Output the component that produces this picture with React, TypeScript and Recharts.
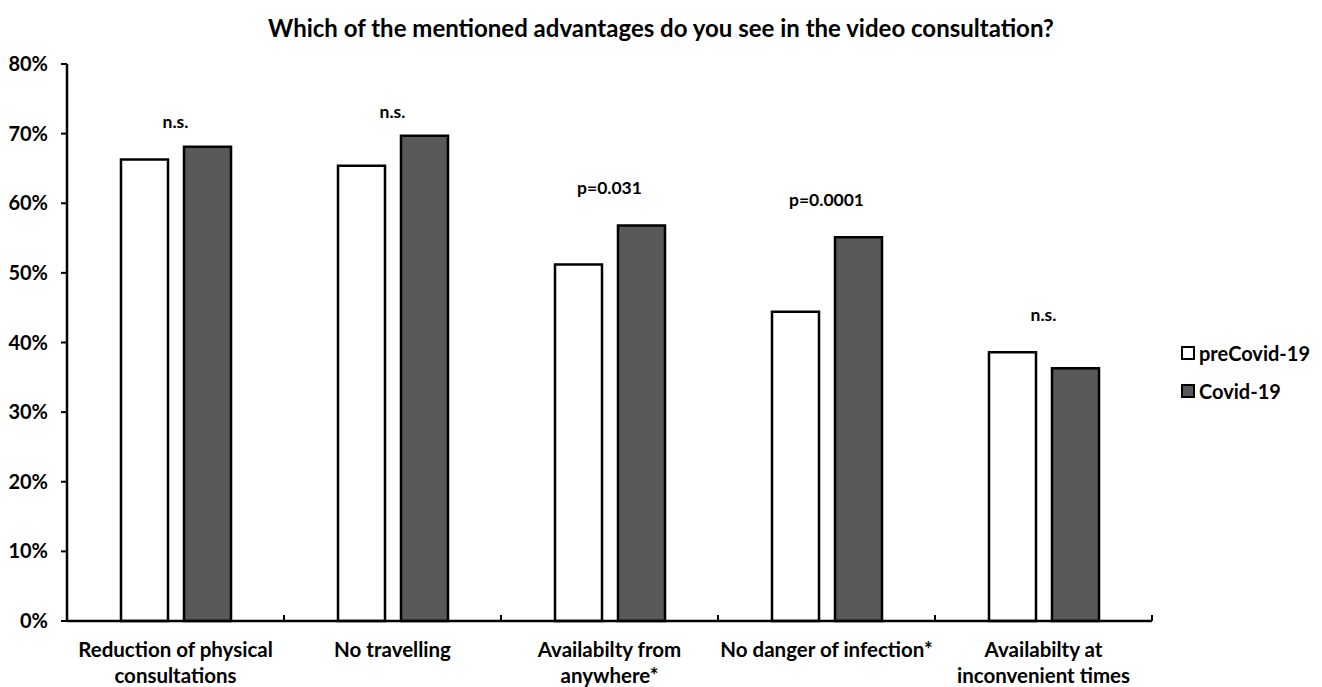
import React from 'react';
import { BarChart, Bar, XAxis, YAxis, ReferenceDot } from 'recharts';

const categories = [
  'Reduction of physical consultations',
  'No travelling',
  'Availabilty from anywhere*',
  'No danger of infection*',
  'Availabilty at inconvenient times',
];
const tickLines = [
  ['Reduction of physical', 'consultations'],
  ['No travelling'],
  ['Availabilty from', 'anywhere*'],
  ['No danger of infection*'],
  ['Availabilty at', 'inconvenient times'],
];
const preCovid = [66.3, 65.4, 51.2, 44.4, 38.6];
const covid = [68.1, 69.7, 56.8, 55.1, 36.3];
const pLabels = ['n.s.', 'n.s.', 'p=0.031', 'p=0.0001', 'n.s.'];
const pLevels = [71.7, 73.1, 62.2, 60.5, 44.0];
const yTicks = [0, 10, 20, 30, 40, 50, 60, 70, 80];

const data = categories.map((name, i) => ({ name, pre: preCovid[i], covid: covid[i] }));

const W = 1322;
const H = 687;
const MARGIN = { top: 64, right: 170, left: 1, bottom: 0 };
const Y_AXIS_W = 66;
const BAND = (W - MARGIN.left - MARGIN.right - Y_AXIS_W) / categories.length;
const FONT = 'Lato, "Open Sans", sans-serif';

const CategoryTick = (props: any) => {
  const { x, y, index } = props;
  const lines = tickLines[index] || [];
  const half = BAND / 2;
  return (
    <g>
      <line x1={x - half} x2={x - half} y1={y} y2={y - 6} stroke="#000" strokeWidth={2} />
      {index === categories.length - 1 && (
        <line x1={x + half} x2={x + half} y1={y} y2={y - 6} stroke="#000" strokeWidth={2} />
      )}
      <text x={x} y={y} textAnchor="middle" fontFamily={FONT} fontWeight={700} fontSize={20.5} fill="#000">
        {lines.map((l, i) => (
          <tspan key={i} x={x} dy={i === 0 ? 36 : 26}>
            {l}
          </tspan>
        ))}
      </text>
    </g>
  );
};

const LegendItem = ({ top, fill, label }: { top: number; fill: string; label: string }) => (
  <div style={{ position: 'absolute', left: 1181, top, display: 'flex', alignItems: 'center', height: 20 }}>
    <div style={{ width: 10, height: 10, border: '2px solid #000', background: fill, marginRight: 4 }} />
    <span style={{ fontFamily: FONT, fontWeight: 700, fontSize: 20, color: '#000', lineHeight: '20px' }}>{label}</span>
  </div>
);

export default function App() {
  return (
    <div style={{ position: 'absolute', left: 0, top: 0, width: W, height: H, background: '#fff' }}>
      <div
        style={{
          position: 'absolute',
          left: 0,
          top: 14,
          width: W,
          textAlign: 'center',
          fontFamily: FONT,
          fontWeight: 700,
          fontSize: 24,
          lineHeight: '28px',
          color: '#000',
        }}
      >
        Which of the mentioned advantages do you see in the video consultation?
      </div>
      <BarChart width={W} height={H} data={data} margin={MARGIN} barGap={16}>
        <XAxis
          dataKey="name"
          height={66}
          axisLine={{ stroke: '#000', strokeWidth: 2.5 }}
          tickLine={false}
          tickSize={0}
          tickMargin={0}
          interval={0}
          tick={<CategoryTick />}
        />
        <YAxis
          width={Y_AXIS_W}
          domain={[0, 80]}
          ticks={yTicks}
          tickFormatter={(v: number) => `${v}%`}
          axisLine={{ stroke: '#000', strokeWidth: 2.5 }}
          tickLine={{ stroke: '#000', strokeWidth: 2 }}
          tickSize={6}
          tickMargin={13}
          tick={{ fill: '#000', fontFamily: FONT, fontWeight: 700, fontSize: 20 }}
        />
        <Bar dataKey="pre" fill="#ffffff" stroke="#000" strokeWidth={2.5} barSize={47} isAnimationActive={false} />
        <Bar dataKey="covid" fill="#595959" stroke="#000" strokeWidth={2.5} barSize={47} isAnimationActive={false} />
        {categories.map((c, i) => (
          <ReferenceDot
            key={c}
            x={c}
            y={pLevels[i]}
            r={0}
            fill="none"
            stroke="none"
            label={{
              value: pLabels[i],
              position: 'center',
              fill: '#000',
              fontFamily: FONT,
              fontWeight: 700,
              fontSize: 17.5,
            }}
          />
        ))}
      </BarChart>
      <LegendItem top={343} fill="#ffffff" label="preCovid-19" />
      <LegendItem top={381} fill="#595959" label="Covid-19" />
    </div>
  );
}
